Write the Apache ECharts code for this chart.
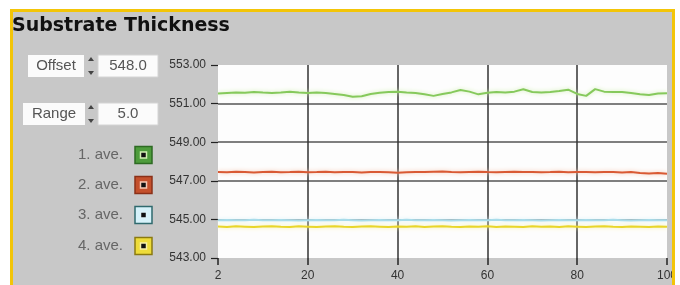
<!DOCTYPE html>
<html>
<head>
<meta charset="utf-8">
<script src="https://cdn.jsdelivr.net/npm/echarts@6/dist/echarts.min.js"></script>
<style>
  html, body { margin: 0; padding: 0; background: #fff; }
  #chart { width: 680px; height: 285px; }
</style>
</head>
<body>
<div id="chart"></div>
<script>
// sample positions along the x axis
var xs = [0, 2, 4, 6, 8, 10, 12, 14, 16, 18, 20, 22, 24, 26, 28, 30, 32, 34, 36, 38, 40,
    42, 44, 46, 48, 50, 52, 54, 56, 58, 60, 62, 64, 66, 68, 70, 72, 74, 76, 78, 80,
    82, 84, 86, 88, 90, 92, 94, 96, 98, 100];

var ave1 = [551.52, 551.55, 551.58, 551.56, 551.60, 551.57, 551.55, 551.58, 551.62, 551.57, 551.55,
    551.57, 551.55, 551.50, 551.45, 551.36, 551.38, 551.50, 551.56, 551.60, 551.62,
    551.58, 551.55, 551.48, 551.40, 551.50, 551.58, 551.70, 551.62, 551.48, 551.56,
    551.60, 551.58, 551.62, 551.74, 551.60, 551.58, 551.60, 551.65, 551.72, 551.50,
    551.40, 551.75, 551.62, 551.60, 551.60, 551.55, 551.48, 551.45, 551.52, 551.54];

var ave2 = [547.46, 547.44, 547.47, 547.45, 547.43, 547.46, 547.47, 547.44, 547.45, 547.47, 547.44,
    547.45, 547.47, 547.44, 547.46, 547.45, 547.43, 547.46, 547.45, 547.44, 547.42,
    547.44, 547.46, 547.45, 547.47, 547.48, 547.45, 547.44, 547.46, 547.47, 547.45,
    547.44, 547.46, 547.47, 547.45, 547.46, 547.44, 547.45, 547.47, 547.44, 547.46,
    547.45, 547.44, 547.46, 547.45, 547.43, 547.45, 547.40, 547.38, 547.40, 547.37];

var ave3 = [544.96, 544.97, 544.95, 544.96, 544.98, 544.96, 544.95, 544.97, 544.96, 544.94, 544.96,
    544.97, 544.95, 544.96, 544.98, 544.96, 544.94, 544.96, 544.97, 544.95, 544.96,
    544.98, 544.96, 544.95, 544.97, 544.96, 544.94, 544.96, 544.97, 544.95, 544.96,
    544.98, 544.96, 544.95, 544.97, 544.96, 544.94, 544.96, 544.97, 544.95, 544.96,
    544.97, 544.95, 544.96, 544.98, 544.96, 544.94, 544.96, 544.97, 544.95, 544.96];

var ave4 = [544.63, 544.61, 544.64, 544.62, 544.60, 544.63, 544.65, 544.62, 544.61, 544.64, 544.62,
    544.60, 544.63, 544.65, 544.62, 544.61, 544.63, 544.64, 544.62, 544.60, 544.63,
    544.62, 544.64, 544.61, 544.63, 544.65, 544.62, 544.60, 544.63, 544.62, 544.64,
    544.61, 544.63, 544.62, 544.60, 544.64, 544.62, 544.63, 544.61, 544.64, 544.62,
    544.60, 544.63, 544.65, 544.62, 544.61, 544.63, 544.62, 544.60, 544.63, 544.62];

var xTickLabels = ['2', '20', '40', '60', '80', '100'];
var legendNames = ['1. ave.', '2. ave.', '3. ave.', '4. ave.'];
var lineColors = ['#86c95c', '#d95a34', '#a8dcea', '#e8d62a'];
var haloColors = ['#d2f0b4', '#f6c8b2', '#dcf3fa', '#f8f0a8'];
var boxColors = ['#4e9c3c', '#c4502c', '#d6f2fa', '#eedc3a'];
var boxBorders = ['#2d6a22', '#8a3018', '#2f6a6e', '#8a7a10'];

var offsetValue = '548.0';
var rangeValue = '5.0';

function zip(a, b) {
    var out = [];
    for (var i = 0; i < a.length; i++) out.push([a[i], b[i]]);
    return out;
}

var myChart = echarts.init(document.getElementById('chart'), null, { renderer: 'canvas' });

var seriesData = [ave1, ave2, ave3, ave4];
var series = [];
for (var s = 0; s < seriesData.length; s++) {
    series.push({
        name: legendNames[s],
        type: 'line',
        data: zip(xs, seriesData[s]),
        showSymbol: false,
        animation: false,
        lineStyle: {
            color: lineColors[s],
            width: 2,
            shadowColor: haloColors[s],
            shadowBlur: 4
        },
        z: 3
    });
}

// left-hand panel widgets
var graphics = [];
graphics.push({
    type: 'text', left: 12, top: 17, z: 50,
    style: { text: 'Substrate Thickness', font: 'bold 19px "DejaVu Sans"', fill: '#111' }
});

function spinBox(y, label, labelX, labelW, value) {
    graphics.push({ type: 'rect', shape: { x: labelX, y: y, width: labelW, height: 22 },
        style: { fill: '#fbfbfb' }, z: 10 });
    graphics.push({ type: 'text', x: labelX + labelW / 2, y: y + 11, z: 11,
        style: { text: label, font: '15px "Liberation Sans"', fill: '#555', align: 'center', verticalAlign: 'middle' } });
    graphics.push({ type: 'polygon', shape: { points: [[88, y + 6], [94, y + 6], [91, y + 2]] },
        style: { fill: '#444' }, z: 10 });
    graphics.push({ type: 'polygon', shape: { points: [[88, y + 16], [94, y + 16], [91, y + 20]] },
        style: { fill: '#444' }, z: 10 });
    graphics.push({ type: 'rect', shape: { x: 98, y: y, width: 60, height: 22 },
        style: { fill: '#fbfbfb', stroke: '#d4d4d4', lineWidth: 1 }, z: 10 });
    graphics.push({ type: 'text', x: 128, y: y + 11, z: 11,
        style: { text: value, font: '15px "Liberation Sans"', fill: '#555', align: 'center', verticalAlign: 'middle' } });
}
spinBox(55, 'Offset', 28, 56, offsetValue);
spinBox(103, 'Range', 23, 62, rangeValue);

var legendY = [155, 185, 215, 246];
for (var k = 0; k < legendNames.length; k++) {
    graphics.push({ type: 'text', x: 123, y: legendY[k], z: 11,
        style: { text: legendNames[k], font: '15px "Liberation Sans"', fill: '#666', align: 'right', verticalAlign: 'middle' } });
    graphics.push({ type: 'rect', shape: { x: 135, y: legendY[k] - 8.5, width: 17, height: 17 },
        style: { fill: boxColors[k], stroke: boxBorders[k], lineWidth: 1.5 }, z: 10 });
    graphics.push({ type: 'rect', shape: { x: 140.5, y: legendY[k] - 3, width: 6, height: 6 },
        style: { fill: '#111', stroke: haloColors[k], lineWidth: 1.5 }, z: 11 });
}

// white outer margin and yellow frame, drawn over the axis labels
graphics.push({ type: 'rect', shape: { x: 0, y: 0, width: 680, height: 9 }, style: { fill: '#fff' }, z: 100 });
graphics.push({ type: 'rect', shape: { x: 0, y: 0, width: 10, height: 285 }, style: { fill: '#fff' }, z: 100 });
graphics.push({ type: 'rect', shape: { x: 675, y: 0, width: 5, height: 285 }, style: { fill: '#fff' }, z: 100 });
graphics.push({ type: 'rect', shape: { x: 11.5, y: 10.5, width: 662, height: 300 },
    style: { fill: 'none', stroke: '#f3c508', lineWidth: 3 }, z: 101 });

var option = {
    backgroundColor: '#c8c8c8',
    animation: false,
    grid: {
        left: 218, right: 10, top: 65, bottom: 27,
        show: true, backgroundColor: '#fdfdfd', borderWidth: 0
    },
    xAxis: {
        type: 'value',
        min: 0, max: 100, interval: 20,
        axisLine: { show: true, lineStyle: { color: '#c8c8c8', width: 0.01 } },
        axisTick: { show: true, inside: false, length: 7, lineStyle: { color: '#222', width: 1.5 } },
        axisLabel: {
            margin: 12, color: '#333', fontSize: 12, fontFamily: 'Liberation Sans',
            formatter: function (v) { return xTickLabels[Math.round(v / 20)]; }
        },
        splitLine: { show: true, showMinLine: false, showMaxLine: false,
            lineStyle: { color: '#333', width: 1.5 } }
    },
    yAxis: {
        type: 'value',
        min: 543, max: 553, interval: 2,
        axisLine: { show: true, lineStyle: { color: '#c8c8c8', width: 0.01 } },
        axisTick: { show: true, inside: false, length: 7, lineStyle: { color: '#222', width: 1.2 } },
        axisLabel: {
            margin: 12, color: '#333', fontSize: 12, fontFamily: 'Liberation Sans',
            formatter: function (v) { return v.toFixed(2); }
        },
        splitLine: { show: true, showMinLine: false, showMaxLine: false,
            lineStyle: { color: '#555', width: 1.5 } }
    },
    graphic: { elements: graphics },
    series: series
};

myChart.setOption(option);
</script>
</body>
</html>
